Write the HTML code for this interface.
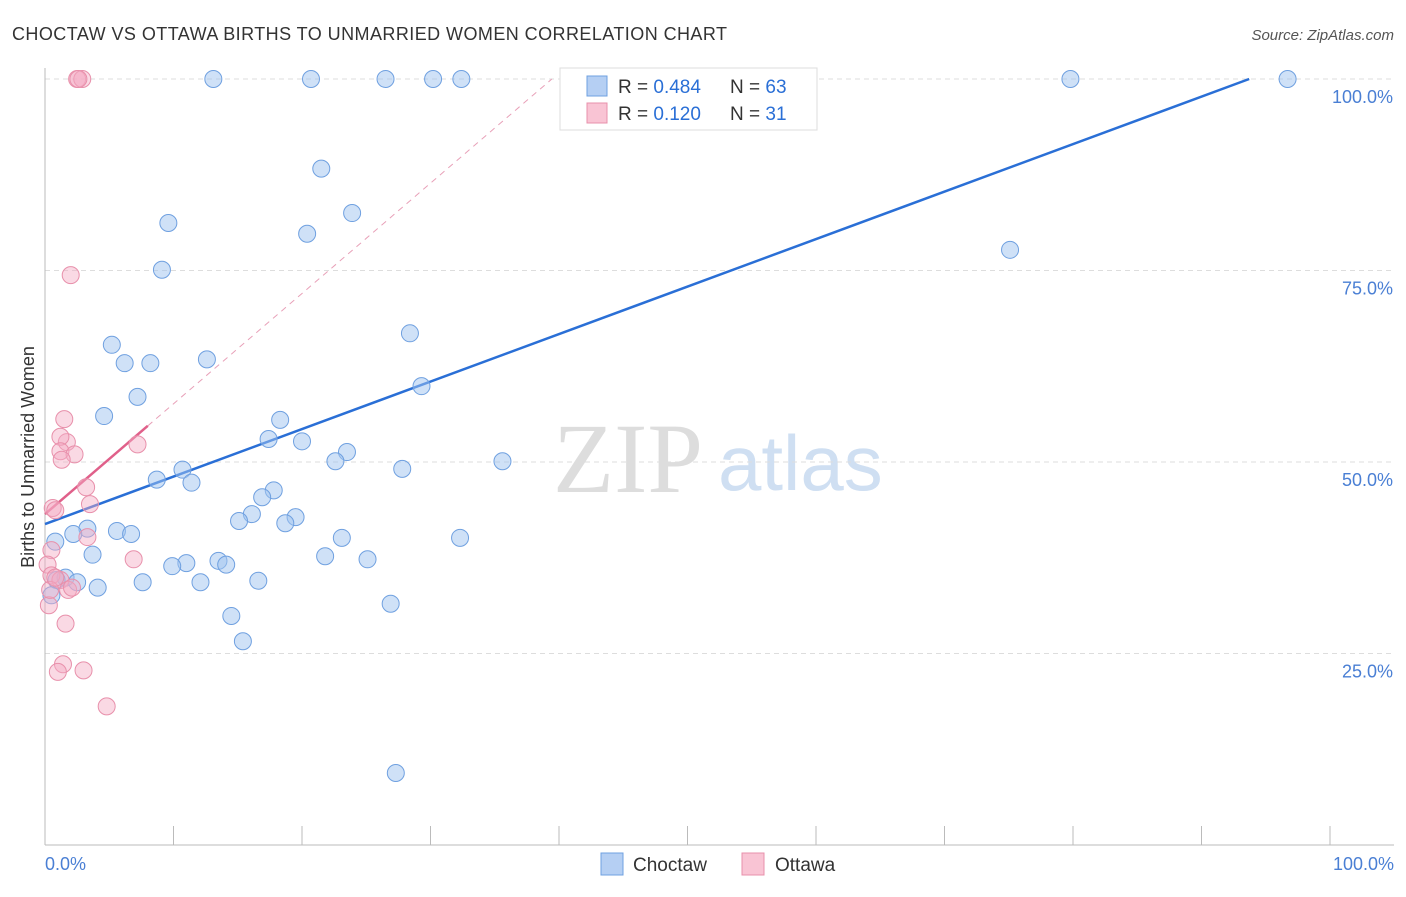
<!DOCTYPE html>
<html><head><meta charset="utf-8"><style>
body{margin:0;background:#fff;font-family:"Liberation Sans",sans-serif;}
svg text{font-family:"Liberation Sans",sans-serif;}
</style></head><body>
<svg id="chart" width="1406" height="892">
<text x="12" y="40" font-size="18" fill="#333" textLength="715">CHOCTAW VS OTTAWA BIRTHS TO UNMARRIED WOMEN CORRELATION CHART</text>
<text x="1394" y="40" font-size="15" fill="#555" font-style="italic" text-anchor="end">Source: ZipAtlas.com</text>
<g>
<text x="553" y="492" font-size="100" style="font-family:'Liberation Serif',serif" fill="#ddd">ZIP</text>
<text x="718" y="490" font-size="78" fill="#cfdff2">atlas</text>
</g>
<g id="grid"></g>
<g id="axes"></g>
<g id="lines"></g>
<g id="pts"></g>
<text transform="translate(34,457) rotate(-90)" font-size="18" fill="#333" text-anchor="middle">Births to Unmarried Women</text>
<text x="45" y="870" font-size="18" fill="#4a7fd4">0.0%</text>
<text x="1394" y="870" font-size="18" fill="#4a7fd4" text-anchor="end">100.0%</text>
<g>
<rect x="560" y="68" width="257" height="62" fill="#fff" stroke="#ddd"/>
<rect x="587" y="76" width="20" height="20" fill="#b5cff3" stroke="#6fa0e0"/>
<rect x="587" y="103" width="20" height="20" fill="#f9c4d4" stroke="#e890ab"/>
<text x="618" y="93" font-size="19" fill="#333">R = <tspan fill="#2a6fd6">0.484</tspan></text>
<text x="730" y="93" font-size="19" fill="#333">N = <tspan fill="#2a6fd6">63</tspan></text>
<text x="618" y="120" font-size="19" fill="#333">R = <tspan fill="#2a6fd6"> 0.120</tspan></text>
<text x="730" y="120" font-size="19" fill="#333">N = <tspan fill="#2a6fd6"> 31</tspan></text>
</g>
<g>
<rect x="601" y="853" width="22" height="22" fill="#b5cff3" stroke="#6fa0e0"/>
<text x="633" y="871" font-size="19" fill="#333">Choctaw</text>
<rect x="742" y="853" width="22" height="22" fill="#f9c4d4" stroke="#e890ab"/>
<text x="775" y="871" font-size="19" fill="#333">Ottawa</text>
</g>
</svg>
<script>
const yTicks=[25,50,75,100];
const yTickLabels=["25.0%","50.0%","75.0%","100.0%"];
const xTicks=[0,10,20,30,40,50,60,70,80,90,100];
const choctawX=[13.1,20.7,26.5,30.2,32.4,79.8,96.7,21.5,23.9,9.6,20.4,75.1,9.1,28.4,5.2,6.2,8.2,12.6,29.3,7.2,4.6,18.3,17.4,20.0,23.5,22.6,35.6,27.8,10.7,8.7,11.4,17.8,16.9,16.1,15.1,19.5,18.7,3.3,2.2,5.6,6.7,0.8,32.3,23.1,3.7,21.8,25.1,13.5,14.1,11.0,9.9,1.6,0.9,2.5,16.6,7.6,12.1,4.1,26.9,14.5,15.4,27.3,0.5];
const choctawY=[100,100,100,100,100,100,100,88.3,82.5,81.2,79.8,77.7,75.1,66.8,65.3,62.9,62.9,63.4,59.9,58.5,56.0,55.5,53.0,52.7,51.3,50.1,50.1,49.1,49.0,47.7,47.3,46.3,45.4,43.2,42.3,42.8,42.0,41.3,40.6,41.0,40.6,39.6,40.1,40.1,37.9,37.7,37.3,37.1,36.6,36.8,36.4,34.9,34.6,34.3,34.5,34.3,34.3,33.6,31.5,29.9,26.6,9.4,32.6];
const ottawaX=[2.5,2.9,2.6,2.0,1.5,1.7,1.2,1.2,2.3,1.3,7.2,3.2,3.5,3.3,0.6,0.8,0.5,6.9,0.2,0.5,1.2,1.8,2.1,0.3,1.6,1.4,1.0,3.0,4.8,0.4,0.8];
const ottawaY=[100,100,100,74.4,55.6,52.6,53.3,51.4,51.0,50.3,52.3,46.7,44.5,40.2,44.0,43.7,38.5,37.3,36.6,35.2,34.6,33.3,33.6,31.3,28.9,23.6,22.6,22.8,18.1,33.3,34.9];
const choctawFit=[41.9,0.62];
const ottawaFit=[43.2,1.44];
const NS="http://www.w3.org/2000/svg";
const X=v=>45+v*12.85, Y=v=>845-v*7.66;
function mk(p,t,a){const e=document.createElementNS(NS,t);for(const k in a)e.setAttribute(k,a[k]);p.appendChild(e);return e;}
const grid=document.getElementById('grid'),axes=document.getElementById('axes'),lines=document.getElementById('lines'),pts=document.getElementById('pts');
yTicks.forEach((t,i)=>{
 const l=mk(grid,'line',{x1:45,x2:1394,y1:Y(t),y2:Y(t),stroke:'#ddd','stroke-dasharray':'5,4'});
 
 
 const tx=mk(axes,'text',{x:1393,y:Y(t)+24,'font-size':18,fill:'#4a7fd4','text-anchor':'end'});tx.textContent=yTickLabels[i];
 
 
});
const ax=mk(axes,'line',{x1:45,x2:1394,y1:845,y2:845,stroke:'#bbb'});


const ay=mk(axes,'line',{x1:45,x2:45,y1:68,y2:845,stroke:'#bbb'});


xTicks.forEach(t=>{const l=mk(axes,'line',{x1:X(t),x2:X(t),y1:826,y2:845,stroke:'#bbb'});
 
 });
const bx2=(100-choctawFit[0])/choctawFit[1];
const bl=mk(lines,'line',{x1:X(0),y1:Y(choctawFit[0]),x2:X(bx2),y2:Y(100),stroke:'#2a6fd6','stroke-width':2.5});


const px2=(100-ottawaFit[0])/ottawaFit[1];
const pd=mk(lines,'line',{x1:X(8),y1:Y(ottawaFit[0]+8*ottawaFit[1]),x2:X(px2),y2:Y(100),stroke:'#e8a0b8','stroke-width':1,'stroke-dasharray':'6,5'});


const pl=mk(lines,'line',{x1:X(0),y1:Y(ottawaFit[0]),x2:X(8),y2:Y(ottawaFit[0]+8*ottawaFit[1]),stroke:'#e0608a','stroke-width':2.5});


choctawX.forEach((v,i)=>{const c=mk(pts,'circle',{cx:X(v),cy:Y(choctawY[i]),r:8.5,fill:'rgba(160,195,240,0.5)',stroke:'#6fa0e0','stroke-width':1});
 
 });
ottawaX.forEach((v,i)=>{const c=mk(pts,'circle',{cx:X(v),cy:Y(ottawaY[i]),r:8.5,fill:'rgba(245,170,195,0.45)',stroke:'#e890ab','stroke-width':1});
 
 });
</script>
</body></html>
